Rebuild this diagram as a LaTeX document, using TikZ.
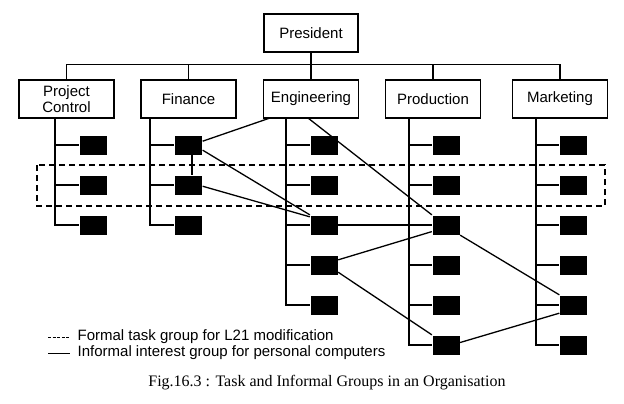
\documentclass[tikz,border=0pt]{standalone}
\usepackage{fontspec}
\setmainfont{Liberation Serif}
\setsansfont{Liberation Sans}
\begin{document}
\begin{tikzpicture}[x=1pt,y=-1pt,line width=1.3pt,
  dept/.style={draw,minimum width=95pt,minimum height=38pt,inner sep=1pt,align=center,
    font=\sffamily\fontsize{15}{16}\selectfont},
  sb/.style={fill=black,minimum width=27pt,minimum height=19pt,inner sep=0pt},
  frm/.style={line width=1.1pt,dash pattern=on 6pt off 4pt},
  leg/.style={anchor=west,inner sep=0pt,font=\sffamily\fontsize{15}{16}\selectfont}]
\useasboundingbox (0,0) rectangle (624,404);
% organisation boxes
\node[dept,minimum width=94pt] (pres) at (311,33) {President};
\node[dept] (pc) at (66.5,99) {Project\\Control};
\node[dept] (fi) at (188.5,99) {Finance};
\node[dept] (en) at (311,99) {Engineering};
\node[dept] (pr) at (433,99) {Production};
\node[dept] (mk) at (560,99) {Marketing};
% top-level connectors
\draw (pres.south) -- ++(0,12) coordinate (b0);
\draw (pc.north) |- (b0) -| (mk.north);
\draw (fi.north) -- (fi.north |- b0);
\draw (en.north) -- (en.north |- b0);
\draw (pr.north) -- (pr.north |- b0);
% member boxes
\foreach \i in {1,2,3} \node[sb] (pc\i) at (93.5,105+40*\i) {};
\foreach \i in {1,2,3} \node[sb] (f\i) at (188.5,105+40*\i) {};
\foreach \i in {1,...,5} \node[sb] (e\i) at (324,105+40*\i) {};
\foreach \i in {1,...,6} \node[sb] (p\i) at (446,105+40*\i) {};
\foreach \i in {1,...,6} \node[sb] (m\i) at (573.5,105+40*\i) {};
% spines
\coordinate (pcs) at (55,118);
\coordinate (fis) at (150,118);
\coordinate (ens) at (286,118);
\coordinate (prs) at (409,118);
\coordinate (mks) at (536,118);
\draw (pcs) |- (pc3.west);
\foreach \i in {1,2} \draw (pcs |- pc\i.west) -- (pc\i.west);
\draw (fis) |- (f3.west);
\foreach \i in {1,2} \draw (fis |- f\i.west) -- (f\i.west);
\draw (ens) |- (e5.west);
\foreach \i in {1,...,4} \draw (ens |- e\i.west) -- (e\i.west);
\draw (prs) |- (p6.west);
\foreach \i in {1,...,5} \draw (prs |- p\i.west) -- (p\i.west);
\draw (mks) |- (m6.west);
\foreach \i in {1,...,5} \draw (mks |- m\i.west) -- (m\i.west);
% formal task group
\draw[frm] (37,165) rectangle (605,206);
% informal group
\coordinate (ea) at (270,118);
\coordinate (eb) at (308,118);
\draw (f1.15) -- (ea);
\draw (eb) -- (p3.north west);
\draw ([xshift=3.5pt]f1.south) -- ([xshift=3.5pt]f2.north);
\draw (f1.-20) -- (e3.north west);
\draw (f2.-5) -- (e3.150);
\draw (e3.east) -- (p3.west);
\draw (e4.20) -- (p3.-155);
\draw (e4.-27) -- (p6.north west);
\draw (p3.south east) -- (m5.north west);
\draw (p6.10) -- (m5.-150);
% legend
\node[leg] (lg1) at (77,337) {Formal task group for L21 modification};
\node[leg] (lg2) at (77,353) {Informal interest group for personal computers};
\coordinate (ld1) at (48,337);
\coordinate (ls1) at (48,353);
\draw[line width=1pt,dash pattern=on 3pt off 1.6pt] (ld1) -- (lg1.west -| 70,0);
\draw[line width=1pt] (ls1) -- (lg2.west -| 70,0);
% caption
\node[font=\fontsize{16}{18}\selectfont] (cap) at (327,383) {Fig.16.3 : Task and Informal Groups in an Organisation};
\end{tikzpicture}
\end{document}
